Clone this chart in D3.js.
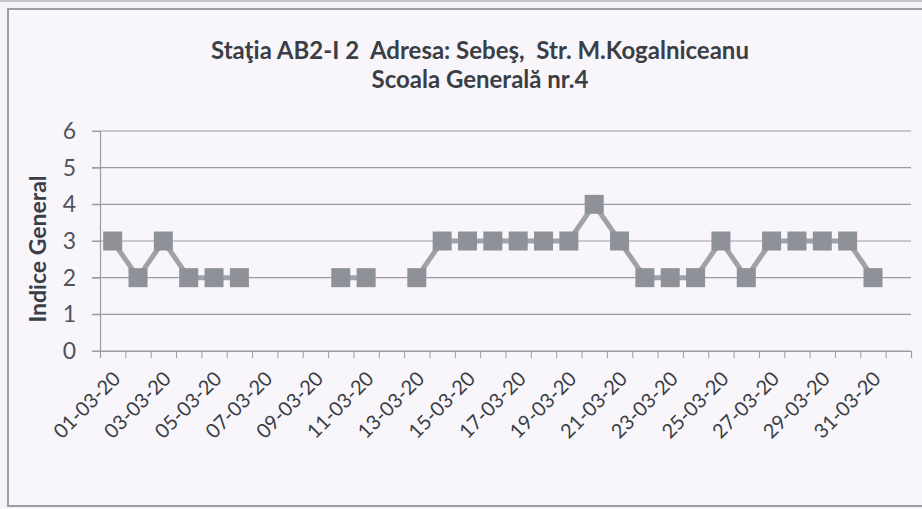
<!DOCTYPE html>
<html>
<head>
<meta charset="utf-8">
<script src="https://cdn.jsdelivr.net/npm/d3@7"></script>
<style>
    body { margin:0; background:#f6f4f9; }
    svg { display:block; }
    text { font-family: Lato, "Open Sans", sans-serif; fill:#3b3e45; white-space:pre; }
</style>
</head>
<body>
<svg id="chart"></svg>
<script>
// category labels (last slot is empty in the original sheet)
var days = ["01-03-20","02-03-20","03-03-20","04-03-20","05-03-20","06-03-20","07-03-20","08-03-20",
            "09-03-20","10-03-20","11-03-20","12-03-20","13-03-20","14-03-20","15-03-20","16-03-20",
            "17-03-20","18-03-20","19-03-20","20-03-20","21-03-20","22-03-20","23-03-20","24-03-20",
            "25-03-20","26-03-20","27-03-20","28-03-20","29-03-20","30-03-20","31-03-20","01-04-20"]

// indice general per day, null = no data
var indice = [3,2,3,2,2,2,null,null,null,2,2,null,2,3,3,3,
              3,3,3,4,3,2,2,2,3,2,3,3,3,3,2,null]

var yTicks = [0,1,2,3,4,5,6]

var titleLines = ["Staţia AB2-I 2  Adresa: Sebeş,  Str. M.Kogalniceanu", "Scoala Generală nr.4"]
var yTitle = "Indice General"

var screen = {width:922, height:509}
var plot = {left:100, right:911, top:131, bottom:351}

var svg = d3.select("#chart")
    .attr("width",screen.width)
    .attr("height",screen.height)

//chart area frame
svg.append("rect")
    .attr("x",8).attr("y",9)
    .attr("width",930).attr("height",497)
    .attr("fill","#f8f6fb")
    .attr("stroke","#9b9ea6")
    .attr("stroke-width",2)

svg.append("line")
    .attr("x1",0).attr("x2",922).attr("y1",1).attr("y2",1)
    .attr("stroke","#c4c4cc").attr("stroke-width",2)

var xScale = d3.scaleBand()
    .domain(days)
    .range([plot.left,plot.right])

var xEdge = d3.scaleLinear()
    .domain([0,days.length])
    .range([plot.left,plot.right])

var yScale = d3.scaleLinear()
    .domain([0,6])
    .range([plot.bottom,plot.top])

//gridlines
svg.append("g")
    .selectAll("line")
    .data(yTicks)
    .enter()
    .append("line")
    .attr("x1",plot.left-8)
    .attr("x2",plot.right)
    .attr("y1",function(d){return yScale(d);})
    .attr("y2",function(d){return yScale(d);})
    .attr("stroke","#9a9ca2")
    .attr("stroke-width",1.2)

//y axis
var yAxis = svg.append("g")
    .attr("transform","translate("+plot.left+",0)")
    .call(d3.axisLeft(yScale).tickValues(yTicks).tickFormat(d3.format("d")).tickSize(8).tickPadding(16))
yAxis.select(".domain").attr("stroke","#9a9ca2").attr("stroke-width",1.2)
yAxis.selectAll(".tick line").attr("stroke","#9a9ca2")
yAxis.selectAll("text")
    .style("font-size","23px")
    .style("fill","#50535b")

//x axis tick marks between categories
var xTicks = svg.append("g")
    .attr("transform","translate(0,"+plot.bottom+")")
    .call(d3.axisBottom(xEdge).tickValues(d3.range(days.length+1)).tickSize(7).tickFormat(""))
xTicks.select(".domain").attr("stroke","#9a9ca2").attr("stroke-width",1.2)
xTicks.selectAll(".tick line").attr("stroke","#9a9ca2")

//x labels every other day
svg.append("g")
    .selectAll("text")
    .data(days.filter(function(d,i){return i%2==0 && i<31;}))
    .enter()
    .append("text")
    .attr("transform",function(d)
    {
        return "translate("+(xScale(d)+xScale.bandwidth()/2+4)+","+(plot.bottom+24)+") rotate(-45)";
    })
    .attr("text-anchor","end")
    .attr("dy","0.35em")
    .style("font-size","20px")
    .text(function(d){return d;})

//line with gaps
var line = d3.line()
    .defined(function(d){return d!=null;})
    .x(function(d,i){return xScale(days[i])+xScale.bandwidth()/2;})
    .y(function(d){return yScale(d);})

svg.append("path")
    .datum(indice)
    .attr("d",line)
    .attr("fill","none")
    .attr("stroke","#9fa2a8")
    .attr("stroke-width",5)
    .attr("stroke-linejoin","round")

var m = 19
svg.append("g")
    .selectAll("rect")
    .data(indice.map(function(v,i){return {day:days[i], v:v};}).filter(function(d){return d.v!=null;}))
    .enter()
    .append("rect")
    .attr("x",function(d){return xScale(d.day)+xScale.bandwidth()/2-m/2;})
    .attr("y",function(d){return yScale(d.v)-m/2;})
    .attr("width",m)
    .attr("height",m)
    .attr("fill","#8e9198")

//titles
svg.append("g")
    .selectAll("text")
    .data(titleLines)
    .enter()
    .append("text")
    .attr("x",480)
    .attr("y",function(d,i){return 59+i*29;})
    .attr("text-anchor","middle")
    .style("font-size","24px")
    .style("font-weight","bold")
    .text(function(d){return d;})

svg.append("text")
    .attr("transform","translate(46,"+(plot.top+118)+") rotate(-90)")
    .attr("text-anchor","middle")
    .style("font-size","23px")
    .style("font-weight","bold")
    .text(yTitle)
</script>
</body>
</html>
